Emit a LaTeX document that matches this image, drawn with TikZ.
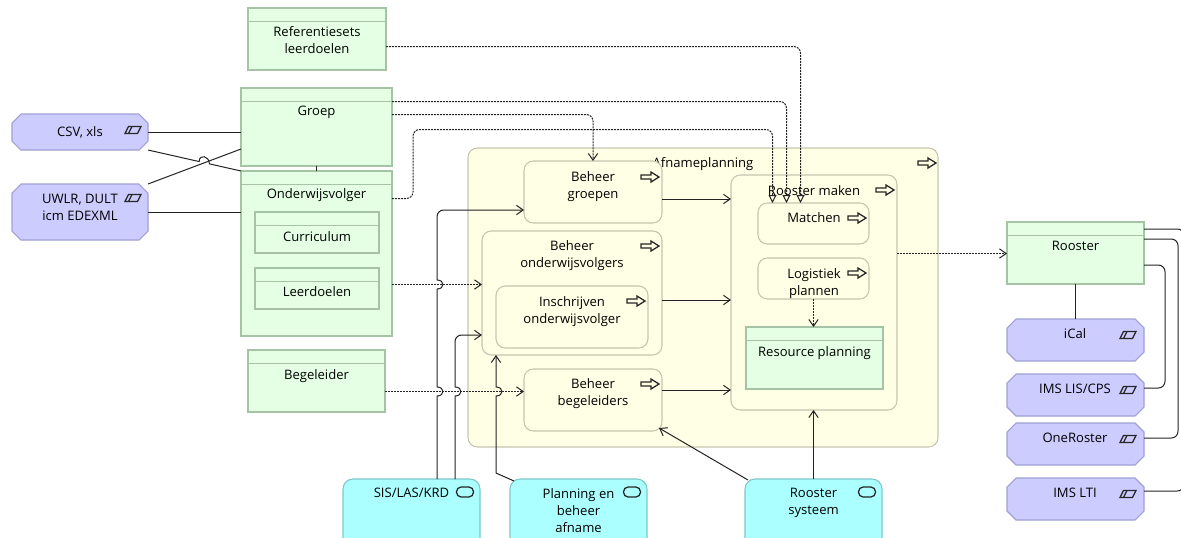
\documentclass[tikz,border=0pt]{standalone}
\usepackage{fontspec}
\setmainfont{Open Sans}
\usetikzlibrary{arrows.meta,calc,fit}

\definecolor{objfill}{RGB}{229,255,229}
\definecolor{objline}{RGB}{165,196,165}
\definecolor{iffill}{RGB}{204,204,255}
\definecolor{ifline}{RGB}{160,160,212}
\definecolor{prfill}{RGB}{255,255,229}
\definecolor{prline}{RGB}{198,198,176}
\definecolor{svfill}{RGB}{172,255,255}
\definecolor{svline}{RGB}{125,200,200}
\definecolor{wire}{RGB}{35,35,35}

% a named rectangular area spanned by two corner points (pixel units)
\newcommand\area[6]{\node[#1, fit={(#3,#4) (#5,#6)}] (#2) {};}
% the thin band at the top of a data object
\newcommand\headline[1]{\draw[objline, line width=0.8pt] ($(#1.north west)+(0,13.5)$) -- ($(#1.north east)+(0,13.5)$);}
% outline of an interface (cut corners)
\newcommand\chamfer[1]{\draw[ifbox] ($(#1.north west)+(9,0)$) -- ($(#1.north east)+(-9,0)$) -- ($(#1.north east)+(0,9)$) -- ($(#1.south east)+(0,-9)$) -- ($(#1.south east)+(-9,0)$) -- ($(#1.south west)+(9,0)$) -- ($(#1.south west)+(0,-9)$) -- ($(#1.north west)+(0,9)$) -- cycle;}

\tikzset{
  x=0.75pt, y=-0.75pt,
  every node/.style={inner sep=0pt, outer sep=0pt},
  txt/.style={font=\fontsize{9.8}{12.75}\selectfont, align=center, anchor=north, text=black},
  objbox/.style={draw=objline, fill=objfill, line width=0.8pt},
  ifbox/.style={draw=ifline, fill=iffill, line width=0.8pt},
  spot/.style={},
  prbox/.style={draw=prline, fill=prfill, line width=0.8pt, rounded corners=7pt},
  svbox/.style={draw=svline, fill=svfill, line width=0.8pt, rounded corners=7.5pt},
  icon/.style={draw=black!85, line width=0.95pt},
  wire/.style={draw=wire, line width=0.75pt},
  flow/.style={wire, line width=0.75pt, dash pattern=on 1.5pt off 0.75pt},
  chev/.style={-{Straight Barb[length=5pt,width=7pt]}},
  tri/.style={-{Triangle[open,length=6pt,width=6pt]}},
  uphop/.style 2 args={insert path={-- ($(#1 |- #2)+(0,4.5)$) .. controls ($(#1 |- #2)+(8,4.5)$) and ($(#1 |- #2)+(8,-4.5)$) .. ($(#1 |- #2)+(0,-4.5)$)}},
  pics/flowicon/.style={code={\draw[icon] (-9,-2) -- (1,-2) -- (1,-5) -- (9,0) -- (1,5) -- (1,2) -- (-9,2) -- cycle;}},
  pics/ificon/.style={code={\draw[icon] (-4.5,-3.5) -- (8,-3.5) -- (4.5,3.5) -- (-8,3.5) -- cycle; \draw[icon] (-1,-3.5) -- (-4.5,3.5);}},
  pics/svicon/.style={code={\draw[icon, rounded corners=3.5pt] (-8.5,-5) rectangle (8.5,5);}},
}

\begin{document}
\begin{tikzpicture}
\useasboundingbox (0,0) rectangle (1181,537);
\clip (0,0) rectangle (1181,537);

% ---------- data objects on the left ----------
\area{objbox}{ref}{248}{8}{386}{70}
\headline{ref}
\node[txt] (ref-t) at (317,26.5) {Referentiesets\\leerdoelen};

\area{objbox}{groep}{241}{88}{392}{166}
\headline{groep}
\node[txt] (groep-t) at (316.5,106) {Groep};

\area{objbox}{ondv}{241}{171}{392}{336}
\headline{ondv}
\node[txt] (ondv-t) at (316.5,189) {Onderwijsvolger};

\area{objbox}{curr}{255}{212}{379}{253}
\headline{curr}
\node[txt] (curr-t) at (317,232) {Curriculum};

\area{objbox}{leerd}{255}{268}{379}{309}
\headline{leerd}
\node[txt] (leerd-t) at (317,286.5) {Leerdoelen};

\area{objbox}{beg}{248}{350}{385}{412}
\headline{beg}
\node[txt] (beg-t) at (316.5,369.5) {Begeleider};

% ---------- interfaces on the left ----------
\area{spot}{csv}{12}{114}{148}{150}
\chamfer{csv}
\node[txt] (csv-t) at (80,126.5) {CSV, xls};
\pic at (133,130) {ificon};

\area{spot}{uwlr}{12}{184}{148}{240}
\chamfer{uwlr}
\node[txt] (uwlr-t) at (80,194.5) {UWLR, DULT\\icm EDEXML};
\pic at (133,198) {ificon};

% ---------- Afnameplanning ----------
\area{prbox}{afn}{468}{148}{938}{447}
\node[txt] (afn-t) at (703,157.5) {Afnameplanning};
\pic at (927,163) {flowicon};

\area{prbox}{bgroep}{524}{161}{662}{223}
\node[txt] (bgroep-t) at (593,171.5) {Beheer\\groepen};
\pic at (650,177) {flowicon};

\area{prbox}{bovg}{482}{231}{662}{355}
\node[txt] (bovg-t) at (572,240.5) {Beheer\\onderwijsvolgers};
\pic at (650,246) {flowicon};

\area{prbox}{insch}{496}{286}{648}{348}
\node[txt] (insch-t) at (572,296.5) {Inschrijven\\onderwijsvolger};
\pic at (636,301) {flowicon};

\area{prbox}{bbeg}{524}{369}{662}{431}
\node[txt] (bbeg-t) at (593,378.5) {Beheer\\begeleiders};
\pic at (650,384) {flowicon};

\area{prbox}{rmaken}{731}{175}{897}{410}
\node[txt] (rmaken-t) at (814,185.5) {Rooster maken};
\pic at (885,190) {flowicon};

\area{prbox}{match}{758}{203}{869}{244}
\node[txt] (match-t) at (814,212.5) {Matchen};
\pic at (857,218) {flowicon};

\area{prbox}{logp}{758}{258}{869}{299}
\begin{scope}
  \clip[rounded corners=7pt] (logp.north west) rectangle (logp.south east);
  \node[txt] (logp-t) at (814,268.5) {Logistiek\\plannen};
\end{scope}
\pic at (857,273) {flowicon};

\area{objbox}{resp}{746}{327}{883}{389}
\headline{resp}
\node[txt] (resp-t) at (814.5,346.5) {Resource planning};

% ---------- Rooster and its interfaces ----------
\area{objbox}{rooster}{1007}{222}{1144}{284}
\headline{rooster}
\node[txt] (rooster-t) at (1075.5,241.5) {Rooster};

\area{spot}{ical}{1007}{319}{1144}{361}
\chamfer{ical}
\node[txt] (ical-t) at (1075,329) {iCal};
\pic at (1128,335) {ificon};

\area{spot}{imslis}{1007}{374}{1144}{416}
\chamfer{imslis}
\node[txt] (imslis-t) at (1075,384) {IMS LIS/CPS};
\pic at (1128,390) {ificon};

\area{spot}{oner}{1007}{423}{1144}{465}
\chamfer{oner}
\node[txt] (oner-t) at (1075,433) {OneRoster};
\pic at (1128,439) {ificon};

\area{spot}{imslti}{1007}{478}{1144}{520}
\chamfer{imslti}
\node[txt] (imslti-t) at (1075,488) {IMS LTI};
\pic at (1128,494) {ificon};

% ---------- application services ----------
\area{svbox}{sis}{343}{479}{480}{560}
\node[txt] (sis-t) at (411.5,488.5) {SIS/LAS/KRD};
\pic at (465,492) {svicon};

\area{svbox}{pba}{510}{479}{647}{560}
\node[txt] (pba-t) at (578.5,488.5) {Planning en\\beheer\\afname};
\pic at (632,492) {svicon};

\area{svbox}{rsys}{745}{479}{882}{560}
\node[txt] (rsys-t) at (813.5,488.5) {Rooster\\systeem};
\pic at (867,492) {svicon};

% ---------- connection points ----------
\coordinate (mIn1) at ($(match.north west)+(14.5,0)$);
\coordinate (mIn2) at ($(match.north west)+(28.5,0)$);
\coordinate (mIn3) at ($(match.north west)+(42.5,0)$);
\coordinate (refOut) at ($(ref.east)+(0,7.5)$);
\coordinate (grOut1) at ($(groep.north east)+(0,13.5)$);
\coordinate (grOut2) at ($(groep.north east)+(0,26.5)$);
\coordinate (ovOut) at ($(ondv.north east)+(0,27.5)$);
\coordinate (ovRise) at ($(ovOut)+(21,-69)$);
\coordinate (lvOut) at ($(ondv.north east)+(0,113.5)$);
\coordinate (bgOut) at ($(beg.east)+(0,10.5)$);
\coordinate (rmOut) at ($(rmaken.east |- rooster.west)+(0,0.5)$);
\coordinate (bgrOut) at ($(bgroep.east)+(0,7)$);
\coordinate (bovOut) at ($(bovg.east)+(0,7)$);
\coordinate (bbgOut) at ($(bbeg.east)+(0,-10)$);
\coordinate (sisL) at ($(sis.north west)+(94,0)$);
\coordinate (sisR) at ($(sis.north west)+(112,0)$);
\coordinate (bgIn) at ($(bgroep.north west)+(0,49)$);
\coordinate (boIn) at ($(bovg.south west)+(0,-20)$);
\coordinate (pbOut) at ($(pba.north west)+(4,2)$);
\coordinate (boUp) at ($(bovg.south west)+(14,0)$);
\coordinate (roA) at ($(rooster.north east)+(0,7)$);
\coordinate (roB) at ($(rooster.north east)+(0,17)$);
\coordinate (roC) at ($(rooster.north east)+(0,43)$);
\coordinate (ltiIn) at ($(imslti.east)+(0,-8)$);
\coordinate (onIn) at ($(oner.east)+(0,-6)$);
\coordinate (lisIn) at ($(imslis.east)+(0,-7)$);
\coordinate (hpA) at ($(csv.south east)!0.55!(ondv.north west)$);
\coordinate (hpB) at ($(csv.south east)!0.66!(ondv.north west)$);

% ---------- left side wiring ----------
\draw[wire] (csv.east) -- (csv.east -| groep.west);
\draw[wire] (uwlr.east) -- (uwlr.east -| ondv.west);
\draw[wire] (uwlr.north east) -- ($(groep.south west)+(0,-17)$);
\draw[wire] (csv.south east) -- (hpA) .. controls ($(hpA)+(0,-8)$) and ($(hpB)+(0,-8)$) .. (hpB) -- (ondv.north west);
\draw[wire] (groep.south) -- (ondv.north);

% ---------- flows from the data objects ----------
\draw[flow, tri, rounded corners=5pt] (refOut) -- (refOut -| mIn3) -- (mIn3);
\draw[flow, tri, rounded corners=5pt] (grOut1) -- (grOut1 -| mIn2) -- (mIn2);
\draw[flow, chev, rounded corners=5pt] (grOut2) -- (grOut2 -| bgroep.north) -- (bgroep.north);
\draw[flow, tri, rounded corners=5pt] (ovOut) -- (ovOut -| ovRise) -- (ovRise) -- (ovRise -| mIn1) -- (mIn1);
\draw[flow, chev] (lvOut) -- (lvOut -| bovg.west);
\draw[flow, chev] (bgOut) -- (bgOut -| bbeg.west);

% ---------- service wiring ----------
\draw[wire, chev] (sisL) [uphop={sisL}{bgOut}] [uphop={sisL}{lvOut}] [rounded corners=5pt] -- (sisL |- bgIn) -- (bgIn);
\draw[wire, chev] (sisR) [uphop={sisR}{bgOut}] [rounded corners=5pt] -- (sisR |- boIn) -- (boIn);
\draw[wire, chev] (pbOut) -- ($(boUp |- pbOut)+(0,-8)$) [uphop={boUp}{bgOut}] -- (boUp);
\draw[wire, chev] (rsys.north) -- (rsys.north |- rmaken.south);
\draw[wire, chev] ($(rsys.north west)+(3,1)$) -- ($(bbeg.south east)+(-3,-3)$);

% ---------- inside Afnameplanning ----------
\draw[wire, chev] (bgrOut) -- (bgrOut -| rmaken.west);
\draw[wire, chev] (bovOut) -- (bovOut -| rmaken.west);
\draw[wire, chev] (bbgOut) -- (bbgOut -| rmaken.west);
\draw[flow, chev] (logp.south) -- (logp.south |- resp.north);

% ---------- towards Rooster ----------
\draw[flow, chev] (rmOut) -- (rmOut -| rooster.west);
\draw[wire] (rooster.south) -- (ical.north);
\draw[wire, rounded corners=5pt] (roA) -- ++(40,0) |- (ltiIn);
\draw[wire, rounded corners=5pt] (roB) -- ++(34,0) |- (onIn);
\draw[wire, rounded corners=5pt] (roC) -- ++(21,0) |- (lisIn);
\end{tikzpicture}
\end{document}
